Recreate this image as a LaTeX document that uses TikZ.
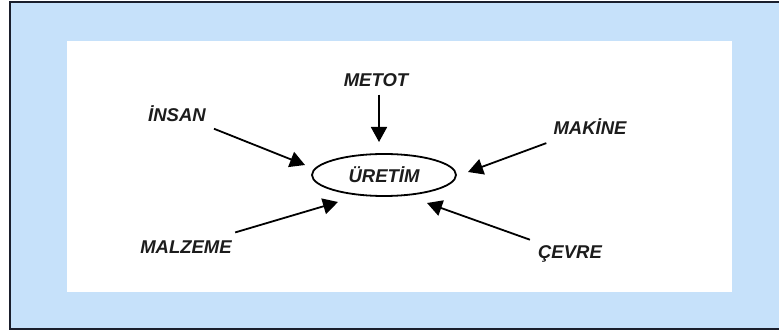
\documentclass[tikz,border=0pt]{standalone}
\usepackage{fontspec}
\setmainfont{Liberation Sans}
\usepackage{xcolor}
\definecolor{paleblue}{RGB}{198,225,250}
\definecolor{framenavy}{HTML}{1A1E2C}
\definecolor{inkgray}{HTML}{1C1C1C}
\usepackage{tikz}
\usetikzlibrary{shapes.geometric,arrows.meta}

\begin{document}
\begin{tikzpicture}[x=1pt, y=-1pt, factor/.style={
					rectangle, inner sep = 8pt, text = inkgray,
					font = \fontsize{18.5}{20}\selectfont\bfseries\itshape},
				center/.style={ellipse, draw = black, line width = 1.8pt, inner sep = 0pt,
					minimum width = 144pt, minimum height = 42pt, text = inkgray,
					font = \fontsize{18.5}{20}\selectfont\bfseries\itshape},
				push/.style={line width = 1.8pt, draw = black,
					-{Triangle[length = 15pt, width = 16pt]}}]
		\useasboundingbox (0,0) rectangle (779,336);
		% frame and panel
		\draw[fill = paleblue, draw = framenavy, line width = 2pt] (10,2) rectangle (790,329.5);
		\fill[white] (67,41) rectangle (732,292);
		\node (uretim) [center] at (384,175) {\"URET\.IM};
		\node (metot) [factor] at (376,80) {METOT};
		\node (insan) [factor] at (177,114) {\.INSAN};
		\node (makine) [factor] at (590,127) {MAK\.INE};
		\node (malzeme) [factor] at (186,247) {MALZEME};
		\node (cevre) [factor] at (570,254) {\c{C}EVRE};
		% arrow tips, just off the ellipse
		\coordinate (tmetot) at (379,142);
		\coordinate (tinsan) at (305,165);
		\coordinate (tmakine) at (468,172);
		\coordinate (tmalzeme) at (338,202);
		\coordinate (tcevre) at (427,203);
		\draw[push] (metot.south -| tmetot) -- (tmetot);
		\draw[push] (insan) -- (tinsan);
		\draw[push] (makine) -- (tmakine);
		\draw[push] (malzeme) -- (tmalzeme);
		\draw[push] (cevre) -- (tcevre);
	\end{tikzpicture}
\end{document}
